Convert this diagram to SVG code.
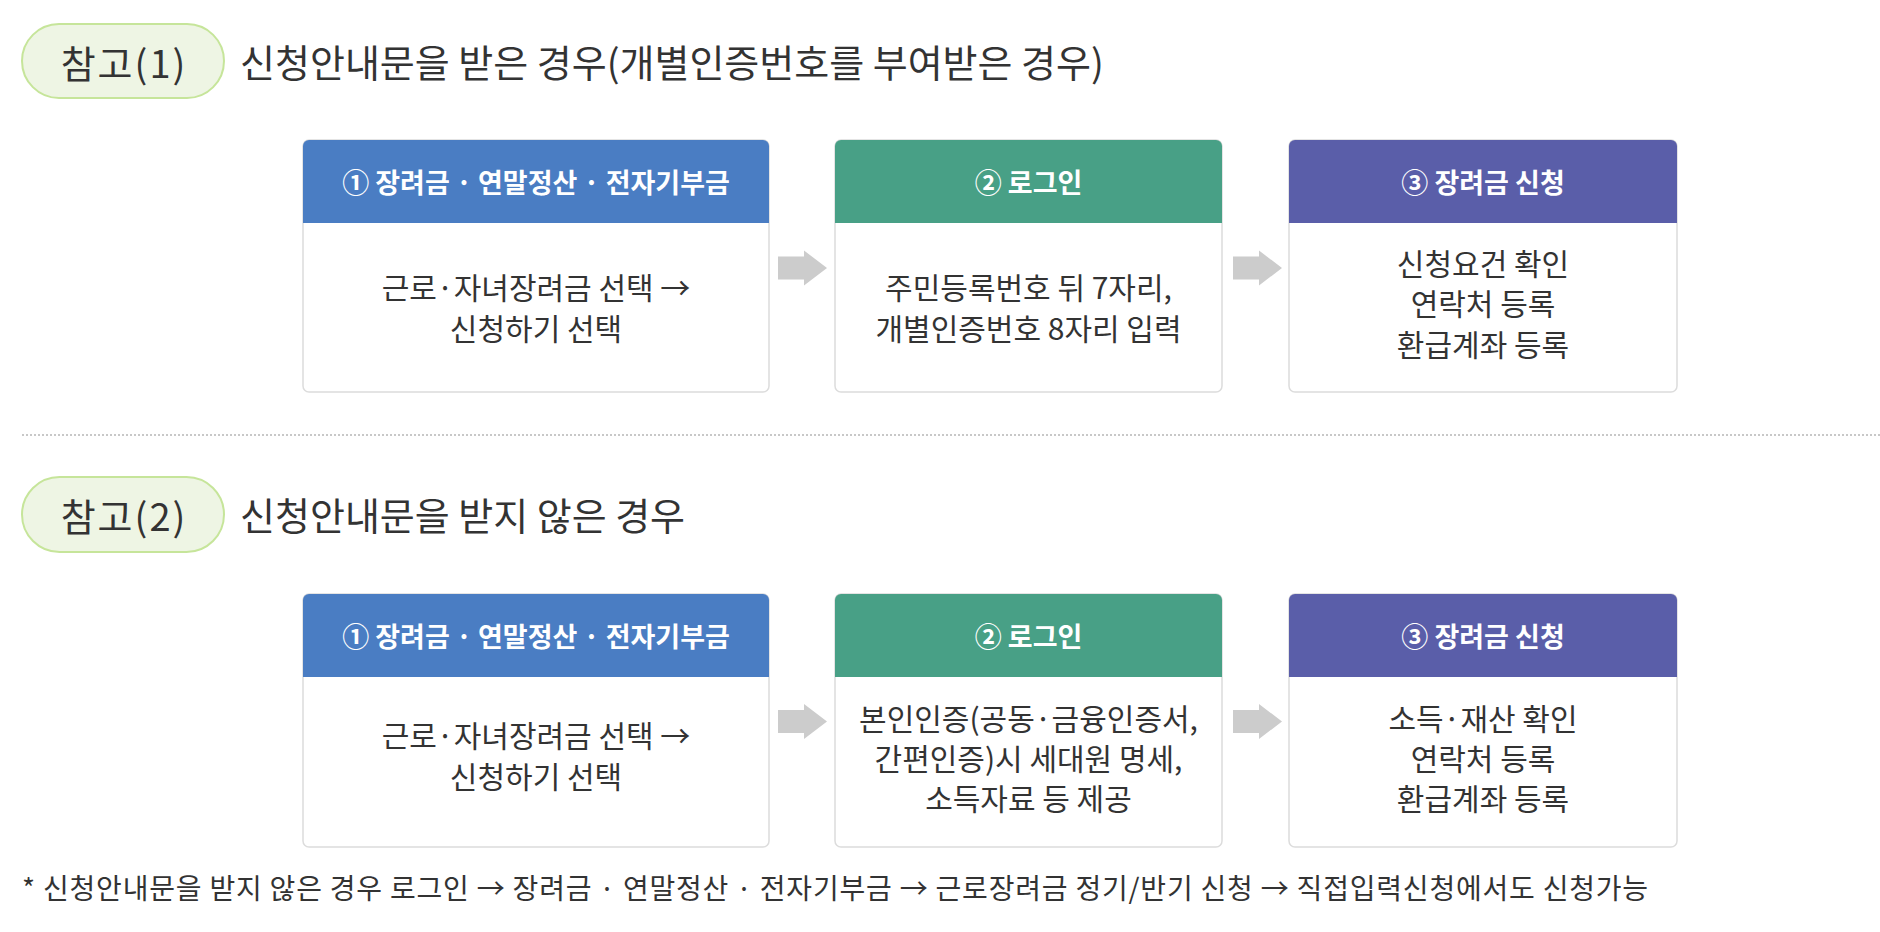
<svg xmlns="http://www.w3.org/2000/svg" width="1880" height="932" viewBox="0 0 1880 932">
<style>
text{font-family:"Noto Sans CJK KR","Noto Sans",sans-serif;dominant-baseline:central}
.pill{fill:#eef5e4;stroke:#c6e59a;stroke-width:2}
.pt{font-size:38px;fill:#333;text-anchor:middle;letter-spacing:2px}
.title{font-size:38px;fill:#333}
.box{fill:#fff;stroke:#dcdcdc;stroke-width:1.5}
.h1{fill:#4a7dc3}.h2{fill:#48a086}.h3{fill:#5a5ea9}
.hd{font-size:27px;font-weight:700;fill:#fff;text-anchor:middle}
.bd{font-size:30px;fill:#333;text-anchor:middle}
.arr{fill:#cccccc}
.note{font-size:28px;fill:#333;letter-spacing:0.8px}
</style>
<rect width="1880" height="932" fill="#fff"/>

<g id="ref1">
<rect class="pill" x="22" y="24" width="202" height="74" rx="37"/>
<text class="pt" x="124" y="61">참고(1)</text>
<text class="title" x="240" y="60">신청안내문을 받은 경우(개별인증번호를 부여받은 경우)</text>
</g>

<g id="r1-step1">
<rect class="box" x="303" y="140" width="466" height="252" rx="6"/>
<path class="h1" d="M303,223V146A6,6 0 0 1 309,140H763A6,6 0 0 1 769,146V223Z"/>
<text class="hd" x="536" y="181.5">① 장려금 · 연말정산 · 전자기부금</text>
<text class="bd"><tspan x="536" y="286">근로·자녀장려금 선택 →</tspan><tspan x="536" y="327">신청하기 선택</tspan></text>
</g>
<g id="r1-step2">
<rect class="box" x="835" y="140" width="387" height="252" rx="6"/>
<path class="h2" d="M835,223V146A6,6 0 0 1 841,140H1216A6,6 0 0 1 1222,146V223Z"/>
<text class="hd" x="1028.5" y="181.5">② 로그인</text>
<text class="bd"><tspan x="1028.5" y="286">주민등록번호 뒤 7자리,</tspan><tspan x="1028.5" y="327">개별인증번호 8자리 입력</tspan></text>
</g>
<g id="r1-step3">
<rect class="box" x="1289" y="140" width="388" height="252" rx="6"/>
<path class="h3" d="M1289,223V146A6,6 0 0 1 1295,140H1671A6,6 0 0 1 1677,146V223Z"/>
<text class="hd" x="1483" y="181.5">③ 장려금 신청</text>
<text class="bd"><tspan x="1483" y="262">신청요건 확인</tspan><tspan x="1483" y="302">연락처 등록</tspan><tspan x="1483" y="343">환급계좌 등록</tspan></text>
</g>

<line id="divider" x1="22" y1="435" x2="1880" y2="435" stroke="#c8c8c8" stroke-width="2" stroke-dasharray="2 2"/>

<g id="ref2">
<rect class="pill" x="22" y="477" width="202" height="75" rx="37.5"/>
<text class="pt" x="124" y="514.5">참고(2)</text>
<text class="title" x="240" y="513.5">신청안내문을 받지 않은 경우</text>
</g>

<g id="r2-step1">
<rect class="box" x="303" y="594" width="466" height="253" rx="6"/>
<path class="h1" d="M303,677V600A6,6 0 0 1 309,594H763A6,6 0 0 1 769,600V677Z"/>
<text class="hd" x="536" y="635.5">① 장려금 · 연말정산 · 전자기부금</text>
<text class="bd"><tspan x="536" y="734">근로·자녀장려금 선택 →</tspan><tspan x="536" y="775">신청하기 선택</tspan></text>
</g>
<g id="r2-step2">
<rect class="box" x="835" y="594" width="387" height="253" rx="6"/>
<path class="h2" d="M835,677V600A6,6 0 0 1 841,594H1216A6,6 0 0 1 1222,600V677Z"/>
<text class="hd" x="1028.5" y="635.5">② 로그인</text>
<text class="bd"><tspan x="1028.5" y="717">본인인증(공동·금융인증서,</tspan><tspan x="1028.5" y="757">간편인증)시 세대원 명세,</tspan><tspan x="1028.5" y="797">소득자료 등 제공</tspan></text>
</g>
<g id="r2-step3">
<rect class="box" x="1289" y="594" width="388" height="253" rx="6"/>
<path class="h3" d="M1289,677V600A6,6 0 0 1 1295,594H1671A6,6 0 0 1 1677,600V677Z"/>
<text class="hd" x="1483" y="635.5">③ 장려금 신청</text>
<text class="bd"><tspan x="1483" y="717">소득·재산 확인</tspan><tspan x="1483" y="757">연락처 등록</tspan><tspan x="1483" y="797">환급계좌 등록</tspan></text>
</g>

<g id="connectors">
<path class="arr" transform="translate(778,268)" d="M0,-11.5H26V-17.5L49,0L26,17.5V11.5H0Z"/>
<path class="arr" transform="translate(1233,268)" d="M0,-11.5H26V-17.5L49,0L26,17.5V11.5H0Z"/>
<path class="arr" transform="translate(778,721.5)" d="M0,-11.5H26V-17.5L49,0L26,17.5V11.5H0Z"/>
<path class="arr" transform="translate(1233,721.5)" d="M0,-11.5H26V-17.5L49,0L26,17.5V11.5H0Z"/>
</g>

<text id="footnote" class="note" x="22" y="887">* 신청안내문을 받지 않은 경우 로그인 → 장려금 · 연말정산 · 전자기부금 → 근로장려금 정기/반기 신청 → 직접입력신청에서도 신청가능</text>
</svg>
